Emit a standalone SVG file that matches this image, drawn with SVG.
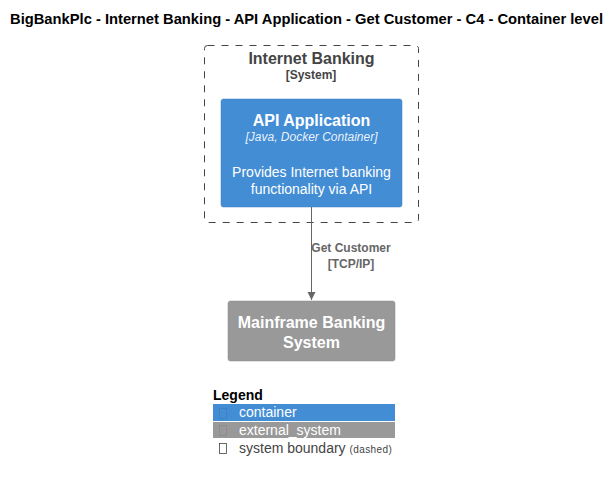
<svg xmlns="http://www.w3.org/2000/svg" width="615" height="482" viewBox="0 0 615 482">
<style>
text{font-family:"Liberation Sans",Arial,sans-serif}
.c{text-anchor:middle}
.w{fill:#FFFFFF}
.g{fill:#444444}
.lbl{fill:#666666;font-size:12px;font-weight:bold}
.leg{font-size:14px}
</style>
<defs>
<marker id="arr" markerWidth="10" markerHeight="10" refX="8" refY="5" orient="auto" markerUnits="userSpaceOnUse">
<path d="M0,1 L8,5 L0,9 Z" fill="#666666"/>
</marker>
</defs>
<rect width="615" height="482" fill="#FFFFFF"/>
<text x="306.5" y="24" class="c" font-size="14" font-weight="bold" fill="#000" textLength="593" lengthAdjust="spacingAndGlyphs">BigBankPlc - Internet Banking - API Application - Get Customer - C4 - Container level</text>
<g id="internet_banking_boundary">
<rect x="204.5" y="45.5" width="214" height="177" rx="3" fill="none" stroke="#444444" stroke-dasharray="7,7"/>
<text x="311.5" y="64" class="c g" font-size="16" font-weight="bold">Internet Banking</text>
<text x="311" y="79" class="c g" font-size="12" font-weight="bold">[System]</text>
</g>
<g id="api_application">
<rect x="221" y="99" width="181" height="108" rx="2.5" fill="#438DD5" stroke="#3C7FC0" stroke-width="0.5"/>
<text x="311.5" y="126" class="c w" font-size="16" font-weight="bold">API Application</text>
<text x="311.5" y="141" class="c w" font-size="12" font-style="italic" fill-opacity="0.9">[Java, Docker Container]</text>
<text x="311.5" y="177" class="c w" font-size="14">Provides Internet banking</text>
<text x="311.5" y="194" class="c w" font-size="14">functionality via API</text>
</g>
<g id="mainframe">
<rect x="228" y="301" width="167" height="60" rx="2.5" fill="#999999" stroke="#8A8A8A" stroke-width="0.5"/>
<text x="311.5" y="328" class="c w" font-size="16" font-weight="bold">Mainframe Banking</text>
<text x="311.5" y="348" class="c w" font-size="16" font-weight="bold">System</text>
</g>
<g id="connectors">
<line x1="311.5" y1="207" x2="311.5" y2="300" stroke="#666666" stroke-width="1" marker-end="url(#arr)"/>
<text x="351" y="252" class="c lbl">Get Customer</text>
<text x="351" y="268" class="c lbl">[TCP/IP]</text>
</g>
<g id="legend">
<text x="213" y="400" font-size="14" font-weight="bold" fill="#000">Legend</text>
<rect x="213" y="404" width="182" height="17" fill="#438DD5"/>
<rect x="213" y="422" width="182" height="16" fill="#999999"/>
<rect x="219.5" y="408.5" width="7" height="10" fill="none" stroke="#3C7FC0" stroke-width="0.8"/>
<rect x="219.5" y="425.5" width="7" height="10" fill="none" stroke="#8A8A8A" stroke-width="0.8"/>
<rect x="219.5" y="443.5" width="7" height="10" fill="none" stroke="#444444" stroke-width="0.8"/>
<text x="239" y="417" class="leg w">container</text>
<text x="239" y="435" class="leg w">external_system</text>
<text x="239" y="453" class="leg" fill="#444444">system boundary <tspan font-size="10" letter-spacing="0.4">(dashed)</tspan></text>
</g>
</svg>
